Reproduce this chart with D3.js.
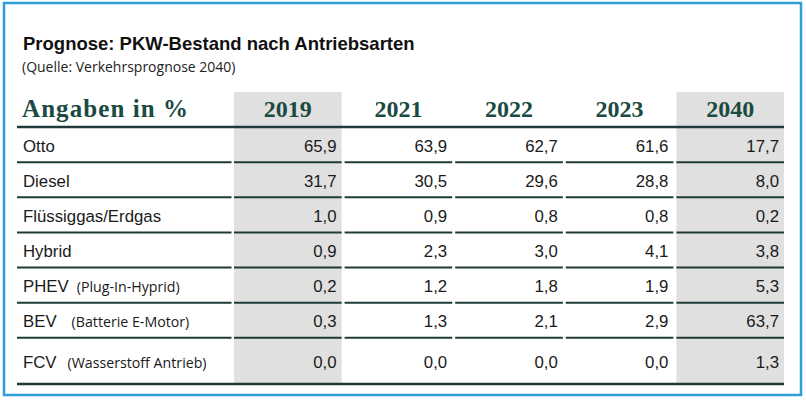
<!DOCTYPE html>
<html>
<head>
<meta charset="utf-8">
<script src="https://cdn.jsdelivr.net/npm/d3@7"></script>
<style>
  html, body { margin: 0; padding: 0; background: #ffffff; }
  svg { display: block; }
</style>
</head>
<body>
<svg id="chart" width="806" height="400"></svg>
<script>
// ---------- data ----------
const title = "Prognose: PKW-Bestand nach Antriebsarten";
const subtitle = "(Quelle: Verkehrsprognose 2040)";
const headerLabel = "Angaben in %";
const years = ["2019", "2021", "2022", "2023", "2040"];
const highlightYears = ["2019", "2040"];
const categories = ["Otto", "Diesel", "Flüssiggas/Erdgas", "Hybrid", "PHEV", "BEV", "FCV"];
const subLabels = ["", "", "", "", "(Plug-In-Hyprid)", "(Batterie E-Motor)", "(Wasserstoff Antrieb)"];
const values2019 = [65.9, 31.7, 1.0, 0.9, 0.2, 0.3, 0.0];
const values2021 = [63.9, 30.5, 0.9, 2.3, 1.2, 1.3, 0.0];
const values2022 = [62.7, 29.6, 0.8, 3.0, 1.8, 2.1, 0.0];
const values2023 = [61.6, 28.8, 0.8, 4.1, 1.9, 2.9, 0.0];
const values2040 = [17.7, 8.0, 0.2, 3.8, 5.3, 63.7, 1.3];

const series = { "2019": values2019, "2021": values2021, "2022": values2022, "2023": values2023, "2040": values2040 };

// ---------- layout ----------
const svg = d3.select("#chart");
const lineColor = "#1e3b3a";
const headColor = "#1b4a42";
const grayFill = "#e0e0e0";
const tableLeft = 17, labelRight = 231.5;
const headerTop = 92, headerLine = 127, lastRowsBottom = 373, tableBottom = 384;

const x = d3.scaleBand().domain(years).range([234, 784]).paddingInner(0.027).paddingOuter(0);
const y = d3.scaleBand().domain(categories).range([headerLine, lastRowsBottom]).padding(0);
const fmt = d3.formatLocale({ decimal: ",", thousands: ".", grouping: [3], currency: ["", "€"] }).format(".1f");

const rowTop = c => y(c);
const rowBottom = c => (c === categories[categories.length - 1]) ? tableBottom : y(c) + y.bandwidth();

// outer blue frame
svg.append("rect")
  .attr("x", 4).attr("y", 3).attr("width", 797).attr("height", 392)
  .attr("fill", "none").attr("stroke", "#2e9fd8").attr("stroke-width", 2.5);

// title + subtitle
svg.append("text").attr("x", 23).attr("y", 50)
  .attr("font-family", "'Liberation Sans', Arial, sans-serif").attr("font-weight", "bold")
  .attr("font-size", 18.5).attr("fill", "#111").text(title);
svg.append("text").attr("x", 22).attr("y", 72)
  .attr("font-family", "'Open Sans', 'Noto Sans', sans-serif")
  .attr("font-size", 14).attr("fill", "#222").text(subtitle);

// gray highlight columns
svg.selectAll("rect.hl").data(highlightYears).join("rect")
  .attr("class", "hl")
  .attr("x", d => x(d)).attr("y", headerTop)
  .attr("width", x.bandwidth()).attr("height", tableBottom - headerTop)
  .attr("fill", grayFill);

// header texts
svg.append("text").attr("x", 22).attr("y", 117)
  .attr("font-family", "'Liberation Serif', 'Times New Roman', serif").attr("font-weight", "bold")
  .attr("font-size", 25).attr("fill", headColor)
  .attr("textLength", 166).attr("lengthAdjust", "spacing")
  .text(headerLabel);
svg.selectAll("text.year").data(years).join("text")
  .attr("class", "year")
  .attr("x", d => x(d) + x.bandwidth() / 2).attr("y", 117)
  .attr("text-anchor", "middle")
  .attr("font-family", "'Liberation Serif', 'Times New Roman', serif").attr("font-weight", "bold")
  .attr("font-size", 24).attr("fill", headColor)
  .text(d => d);

// header and bottom thick lines
svg.append("line").attr("x1", tableLeft).attr("x2", 784).attr("y1", headerLine).attr("y2", headerLine)
  .attr("stroke", lineColor).attr("stroke-width", 2.6);
svg.append("line").attr("x1", tableLeft).attr("x2", 784).attr("y1", tableBottom).attr("y2", tableBottom)
  .attr("stroke", lineColor).attr("stroke-width", 2.6);

// row separator segments
const segs = [];
categories.slice(0, -1).forEach(c => {
  const yy = y(c) + y.bandwidth();
  segs.push({ x1: tableLeft, x2: labelRight, y: yy });
  years.forEach(yr => segs.push({ x1: x(yr), x2: x(yr) + x.bandwidth(), y: yy }));
});
svg.selectAll("line.sep").data(segs).join("line")
  .attr("class", "sep")
  .attr("x1", d => d.x1).attr("x2", d => d.x2).attr("y1", d => d.y).attr("y2", d => d.y)
  .attr("stroke", lineColor).attr("stroke-width", 2);

// row labels
const subGap = { "PHEV": 8, "BEV": 15, "FCV": 11 };
const baseline = c => (rowTop(c) + rowBottom(c)) / 2 + 7;
const labels = svg.selectAll("text.lab").data(categories).join("text")
  .attr("class", "lab")
  .attr("x", 23).attr("y", c => baseline(c))
  .attr("font-family", "'Liberation Sans', Arial, sans-serif")
  .attr("font-size", 16.8).attr("fill", "#1a1a1a");
labels.append("tspan").text(c => c);
labels.filter((c, i) => subLabels[i] !== "").append("tspan")
  .attr("dx", c => subGap[c] || 8)
  .attr("font-family", "'Open Sans', 'Noto Sans', sans-serif")
  .attr("font-size", 14.2)
  .text(c => subLabels[categories.indexOf(c)]);

// values
const cells = [];
years.forEach(yr => categories.forEach((c, i) => cells.push({ yr, c, v: series[yr][i] })));
svg.selectAll("text.val").data(cells).join("text")
  .attr("class", "val")
  .attr("x", d => x(d.yr) + x.bandwidth() - 5)
  .attr("y", d => baseline(d.c))
  .attr("text-anchor", "end")
  .attr("font-family", "'Liberation Sans', Arial, sans-serif")
  .attr("font-size", 16.8).attr("fill", "#1a1a1a")
  .text(d => fmt(d.v));
</script>
</body>
</html>
